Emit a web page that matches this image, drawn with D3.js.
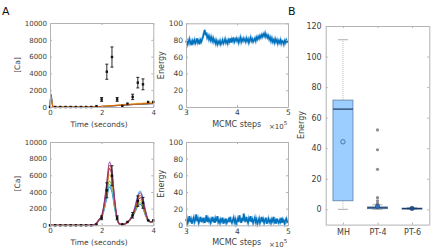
<!DOCTYPE html>
<html>
<head>
<meta charset="utf-8">
<script src="https://cdn.jsdelivr.net/npm/d3@7"></script>
<style>
  body { margin: 0; background: #fff; }
  text { font-family: 'DejaVu Sans', sans-serif; fill: #404040; }
</style>
</head>
<body>
<script>
// ---- panel A data: measured [Ca] with error bars
const dataTime = [0, 0.2, 0.4, 0.6, 0.8, 1.0, 1.2, 1.4, 1.6, 1.8, 2.0, 2.2, 2.4, 2.6, 2.8, 3.0, 3.2, 3.4, 3.6, 3.8, 4.0]
const dataCa = [0, 0, 0, 0, 0, 0, 0, 0, 0, 100, 900, 4200, 5950, 900, 130, 400, 1200, 2900, 2700, 600, 600]
const dataErr = [0, 0, 0, 0, 0, 0, 0, 0, 0, 0, 230, 900, 1200, 230, 0, 0, 320, 630, 650, 0, 0]

// model trajectories share this time grid
const traceTime = [0, 0.03, 0.12, 1.6, 1.7, 1.8, 1.9, 2.0, 2.1, 2.2, 2.3, 2.4, 2.5, 2.6, 2.7, 2.8, 2.9, 3.0, 3.1, 3.2, 3.3, 3.4, 3.5, 3.6, 3.7, 3.8, 3.9, 4.0]
const colors = ['#0072BD', '#D95319', '#EDB120', '#7E2F8E', '#77AC30', '#4DBEEE', '#A2142F']

// MH fits (top)
const mhTraces = [
  { c: 0, v: [0, 1600, 0, 0, 0, 15, 35, 55, 75, 95, 115, 135, 155, 175, 195, 215, 235, 255, 275, 290, 305, 320, 335, 350, 365, 380, 395, 410] },
  { c: 3, v: [0, 1500, 0, 0, 0, 15, 35, 55, 75, 95, 115, 135, 150, 170, 190, 210, 225, 245, 265, 280, 300, 315, 330, 345, 360, 375, 390, 400] },
  { c: 4, v: [0, 1300, 0, 0, 0, 20, 40, 65, 85, 105, 125, 145, 165, 185, 205, 225, 245, 265, 285, 305, 325, 340, 355, 370, 385, 400, 415, 430] },
  { c: 2, v: [0, 1150, 0, 0, 0, 25, 55, 85, 110, 135, 160, 185, 210, 235, 260, 285, 310, 335, 360, 385, 410, 430, 455, 480, 505, 530, 555, 580] },
  { c: 1, v: [0, 1000, 0, 0, 0, 20, 45, 70, 90, 110, 130, 150, 170, 190, 210, 230, 250, 270, 290, 310, 330, 350, 365, 380, 395, 410, 425, 440] }
]

// PT fits (bottom)
const ptTraces = [
  { c: 0, v: [0, 0, 0, 0, 30, 220, 600, 950, 1900, 3300, 4600, 4000, 2100, 650, 120, 90, 160, 360, 640, 1050, 1650, 2300, 2500, 2050, 1150, 520, 380, 430] },
  { c: 4, v: [0, 0, 0, 0, 30, 230, 620, 980, 2050, 3700, 5300, 4600, 2400, 700, 130, 90, 160, 360, 650, 1100, 1750, 2450, 2700, 2200, 1250, 550, 390, 440] },
  { c: 5, v: [0, 0, 0, 0, 30, 220, 610, 960, 1950, 3500, 4900, 4300, 2250, 680, 130, 90, 170, 400, 760, 1380, 2400, 3650, 4100, 3300, 1800, 700, 440, 500] },
  { c: 2, v: [0, 0, 0, 0, 35, 240, 640, 1000, 2200, 4100, 6100, 5300, 2700, 760, 140, 85, 155, 360, 670, 1150, 1900, 2700, 3000, 2450, 1350, 580, 400, 450] },
  { c: 6, v: [0, 0, 0, 0, 40, 250, 660, 1050, 2450, 4600, 6800, 5900, 2950, 800, 150, 85, 150, 365, 690, 1200, 2000, 2950, 3300, 2700, 1480, 620, 410, 470] },
  { c: 1, v: [0, 0, 0, 0, 40, 260, 680, 1100, 2600, 4900, 7200, 6300, 3100, 850, 160, 80, 150, 370, 700, 1250, 2100, 3200, 3600, 2900, 1600, 650, 420, 480] },
  { c: 3, v: [0, 0, 0, 0, 45, 280, 700, 1150, 2750, 5200, 7600, 6600, 3300, 900, 170, 80, 150, 380, 720, 1300, 2250, 3450, 3900, 3150, 1700, 680, 430, 500] }
]

// energy traces, MCMC steps 3e5..5e5, evenly spaced samples
const energyMH = [
  77, 79, 75, 78, 81, 76, 78, 74, 79, 77,
  80, 76, 78, 82, 77, 79, 75, 80, 78, 81,
  84, 88, 92, 86, 89, 83, 85, 81, 84, 80,
  83, 79, 82, 78, 80, 76, 79, 75, 78, 76,
  79, 75, 77, 80, 76, 78, 81, 77, 79, 76,
  80, 78, 82, 77, 81, 79, 83, 78, 80, 82,
  79, 81, 77, 80, 83, 78, 81, 79, 82, 80,
  78, 82, 79, 81, 77, 80, 83, 79, 81, 78,
  80, 82, 79, 83, 81, 84, 82, 85, 83, 86,
  84, 87, 85, 88, 84, 86, 83, 85, 81, 83,
  79, 82, 78, 80, 77, 81, 78, 80, 76, 79,
  77, 80, 76, 79, 78, 75, 79, 77, 80, 78, 79
]
const energyPT = [
  5, 8, 3, 6, 11, 4, 7, 2, 6, 9,
  4, 7, 13, 5, 8, 3, 6, 10, 4, 7,
  5, 9, 3, 6, 12, 4, 8, 5, 7, 3,
  6, 10, 4, 7, 3, 8, 5, 11, 4, 6,
  3, 7, 5, 9, 2, 6, 4, 8, 3, 5,
  7, 4, 10, 5, 3, 6, 9, 4, 7, 2,
  5, 8, 4, 12, 6, 3, 9, 5, 14, 7,
  4, 10, 6, 3, 8, 5, 11, 4, 7, 3,
  6, 9, 4, 7, 2, 5, 8, 3, 6, 10,
  4, 7, 3, 6, 9, 2, 5, 8, 4, 6,
  3, 7, 5, 10, 4, 6, 2, 8, 5, 3,
  6, 4, 9, 3, 7, 5, 2, 6, 8, 4, 5
]

// ---- panel B: energy box plots
const boxCats = ['MH', 'PT-4', 'PT-6']
const boxQ1 = [5.6, 0.4, 0.2]
const boxMedian = [65.6, 1.0, 0.5]
const boxQ3 = [71.5, 1.6, 0.8]
const boxLo = [0, 0, 0]
const boxHi = [111, 3, 1.2]
const boxMean = [44.2, 2.0, 0.6]
const boxOutliers = [[], [52, 39, 26.2, 7.6, 5.6, 4], []]

const caTicks = [0, 2000, 4000, 6000, 8000, 10000]
const timeTicks = [0, 2, 4]
const energyTicks = [0, 20, 40, 60, 80, 100]
const stepTicks = [3, 4, 5]
const boxTicks = [0, 20, 40, 60, 80, 100, 120]

//-----------------------------------------------------------------------------

const svg = d3.select('body').append('svg')
  .attr('width', 436)
  .attr('height', 250)

const frameColor = '#b3b3b3'
const intFmt = d3.format('d')

function frame (x, y, xTicks, yTicks, fs, padX, padY, xFmt) {
  const [y0, y1] = y.range()
  const [x0, x1] = x.range()
  const g = svg.append('g')
  const axes = [
    g.append('g').attr('transform', `translate(0,${y0})`)
      .call(d3.axisBottom(x).tickValues(xTicks).tickFormat(xFmt).tickSizeInner(-2).tickSizeOuter(0).tickPadding(padX)),
    g.append('g').attr('transform', `translate(0,${y1})`)
      .call(d3.axisTop(x).tickValues(xTicks).tickFormat('').tickSizeInner(-2).tickSizeOuter(0)),
    g.append('g').attr('transform', `translate(${x0},0)`)
      .call(d3.axisLeft(y).tickValues(yTicks).tickFormat(intFmt).tickSizeInner(-2).tickSizeOuter(0).tickPadding(padY)),
    g.append('g').attr('transform', `translate(${x1},0)`)
      .call(d3.axisRight(y).tickValues(yTicks).tickFormat('').tickSizeInner(-2).tickSizeOuter(0))
  ]
  axes.forEach(a => {
    a.select('.domain').attr('stroke', frameColor)
    a.selectAll('.tick line').attr('stroke', frameColor)
    a.selectAll('.tick text').attr('fill', '#404040').style('font-size', fs + 'px')
      .attr('font-family', 'DejaVu Sans')
  })
  return g
}

function label (x, y, txt, fs, rotate) {
  const t = svg.append('text')
    .attr('text-anchor', 'middle')
    .style('font-size', fs + 'px')
    .text(txt)
  if (rotate) {
    t.attr('transform', `translate(${x},${y}) rotate(-90)`)
  } else {
    t.attr('x', x).attr('y', y)
  }
  return t
}

function exponent (x, y) {
  const t = svg.append('text').attr('x', x).attr('y', y).style('font-size', '7px')
  t.append('tspan').text('×10')
  t.append('tspan').attr('dy', -3.5).style('font-size', '5.5px').text('5')
}

// ---- A: [Ca] panels
function caPanel (top, bottom, traces) {
  const x = d3.scaleLinear().domain([0, 4]).range([50, 153.3])
  const y = d3.scaleLinear().domain([0, 10000]).range([bottom, top])
  const line = d3.line()
    .x(d => x(d[0]))
    .y(d => y(d[1]))
    .curve(d3.curveMonotoneX)

  svg.append('g')
    .selectAll('path')
    .data(traces)
    .join('path')
    .attr('d', d => line(traceTime.map((t, i) => [t, d.v[i]])))
    .attr('fill', 'none')
    .attr('stroke', d => colors[d.c])
    .attr('stroke-width', 1.1)
    .attr('stroke-opacity', 0.85)

  const pts = dataTime.map((t, i) => ({ t, v: dataCa[i], e: dataErr[i] }))
  const eg = svg.append('g').attr('stroke', '#111').attr('stroke-width', 0.9)
  pts.filter(d => d.e > 0).forEach(d => {
    eg.append('line').attr('x1', x(d.t)).attr('x2', x(d.t))
      .attr('y1', y(d.v - d.e)).attr('y2', y(d.v + d.e))
    eg.append('line').attr('x1', x(d.t) - 1.5).attr('x2', x(d.t) + 1.5)
      .attr('y1', y(d.v - d.e)).attr('y2', y(d.v - d.e))
    eg.append('line').attr('x1', x(d.t) - 1.5).attr('x2', x(d.t) + 1.5)
      .attr('y1', y(d.v + d.e)).attr('y2', y(d.v + d.e))
  })
  svg.append('g')
    .selectAll('rect')
    .data(pts)
    .join('rect')
    .attr('x', d => x(d.t) - 1.2)
    .attr('y', d => y(d.v) - 1.2)
    .attr('width', 2.4)
    .attr('height', 2.4)
    .attr('fill', '#111')

  frame(x, y, timeTicks, caTicks, 7, 3, 3, intFmt)
  label(99, bottom + 20, 'Time (seconds)', 7.5)
  label(20, (top + bottom) / 2, '[Ca]', 7.5, true)
}

caPanel(23, 107, mhTraces)
caPanel(142, 225.3, ptTraces)

// ---- A: energy traces
function energyPanel (top, bottom, values) {
  const x = d3.scaleLinear().domain([3, 5]).range([186, 288])
  const y = d3.scaleLinear().domain([0, 100]).range([bottom, top])
  const steps = d3.range(values.length).map(i => 3 + 2 * i / (values.length - 1))
  const line = d3.line()
    .x((d, i) => x(steps[i]))
    .y(d => y(d))
  svg.append('path')
    .attr('d', line(values))
    .attr('fill', 'none')
    .attr('stroke', '#9cc8ea')
    .attr('stroke-width', 2.6)
  svg.append('path')
    .attr('d', line(values))
    .attr('fill', 'none')
    .attr('stroke', '#0072BD')
    .attr('stroke-width', 1.5)

  frame(x, y, stepTicks, energyTicks, 7.5, 3, 3, intFmt)
  label(236.7, bottom + 20, 'MCMC steps', 8)
  label(164, (top + bottom) / 2, 'Energy', 8, true)
  exponent(269, bottom + 21.5)
}

energyPanel(23.3, 107, energyMH)
energyPanel(142, 225.3, energyPT)

// ---- B: box plot
{
  const x = d3.scalePoint().domain(boxCats).range([325.7, 429.3]).padding(0.5)
  const y = d3.scaleLinear().domain([-10, 120]).range([224.6, 26])
  const bw = 20
  const g = svg.append('g')

  boxCats.forEach((c, i) => {
    const cx = x(c)
    g.append('line').attr('x1', cx).attr('x2', cx)
      .attr('y1', y(boxQ3[i])).attr('y2', y(boxHi[i]))
      .attr('stroke', '#aaa').attr('stroke-width', 0.8).attr('stroke-dasharray', '1,1')
    g.append('line').attr('x1', cx).attr('x2', cx)
      .attr('y1', y(boxQ1[i])).attr('y2', y(boxLo[i]))
      .attr('stroke', '#aaa').attr('stroke-width', 0.8).attr('stroke-dasharray', '1,1')
    ;[boxLo[i], boxHi[i]].forEach(v => {
      g.append('line').attr('x1', cx - 5).attr('x2', cx + 5)
        .attr('y1', y(v)).attr('y2', y(v))
        .attr('stroke', '#999').attr('stroke-width', 0.8)
    })
    g.append('rect')
      .attr('x', cx - bw / 2)
      .attr('y', y(boxQ3[i]))
      .attr('width', bw)
      .attr('height', Math.max(y(boxQ1[i]) - y(boxQ3[i]), 1))
      .attr('fill', '#9cceff')
      .attr('stroke', '#5b7fa6')
      .attr('stroke-width', 0.8)
    g.append('line').attr('x1', cx - bw / 2).attr('x2', cx + bw / 2)
      .attr('y1', y(boxMedian[i])).attr('y2', y(boxMedian[i]))
      .attr('stroke', '#1f3a63').attr('stroke-width', 1.2)
    boxOutliers[i].forEach(v => {
      g.append('circle').attr('cx', cx).attr('cy', y(v)).attr('r', 1.6)
        .attr('fill', '#8c8c8c')
    })
  })

  // means
  boxCats.forEach((c, i) => {
    const m = g.append('circle').attr('cx', x(c)).attr('cy', y(boxMean[i])).attr('r', 2.2)
    if (i === 0) {
      m.attr('fill', 'none').attr('stroke', '#3f6ea3').attr('stroke-width', 0.9)
    } else {
      m.attr('fill', i === 1 ? '#2e6fc0' : '#1f4f9a').attr('stroke', '#1f3a63').attr('stroke-width', 0.5)
    }
  })

  frame(x, y, boxCats, boxTicks, 8, 5, 4, null)
  label(304, 125, 'Energy', 8, true)
}

// panel letters
svg.append('text').attr('x', 2).attr('y', 15).style('font-size', '11px').style('fill', '#111').text('A')
svg.append('text').attr('x', 288).attr('y', 15).style('font-size', '11px').style('fill', '#111').text('B')
</script>
</body>
</html>
